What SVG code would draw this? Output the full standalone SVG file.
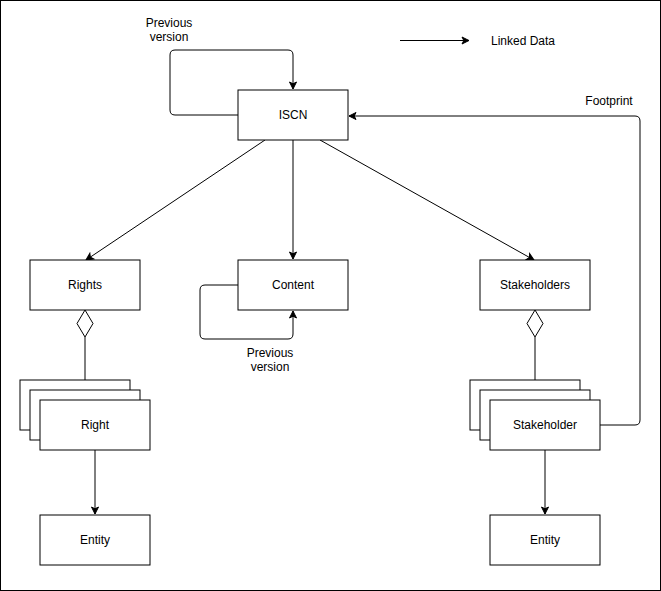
<svg xmlns="http://www.w3.org/2000/svg" width="661" height="591" viewBox="0 0 661 591">
<style>
.box{fill:#fff;stroke:#000;stroke-width:1}
.ln{fill:none;stroke:#000;stroke-width:1}
.t{font-family:"Liberation Sans",Arial,sans-serif;font-size:12px;fill:#000;text-anchor:middle;dominant-baseline:central}
</style>
<defs>
<marker id="arr" markerWidth="10" markerHeight="10" refX="8" refY="5" orient="auto" markerUnits="userSpaceOnUse">
<path d="M1,1.5 L8,5 L1,8.5 L2.8,5 Z" fill="#000" stroke="#000" stroke-width="1"/>
</marker>
</defs>
<rect x="0.5" y="0.5" width="660" height="590" fill="#fff" stroke="#000"/>
<g id="connectors">
<path class="ln" d="M238,115 H175 Q170,115 170,110 V55 Q170,50 175,50 H288 Q293,50 293,55 V89" marker-end="url(#arr)"/>
<path class="ln" d="M265,140 L86,260" marker-end="url(#arr)"/>
<path class="ln" d="M293,140 V259" marker-end="url(#arr)"/>
<path class="ln" d="M320,140 L534,260" marker-end="url(#arr)"/>
<path class="ln" d="M238,285 H205 Q200,285 200,290 V334 Q200,339 205,339 H288 Q293,339 293,334 V311" marker-end="url(#arr)"/>
<path class="ln" d="M600,425 H635 Q640,425 640,420 V121 Q640,116 635,116 H349" marker-end="url(#arr)"/>
<path class="ln" d="M85,337 V380"/>
<path class="ln" d="M535,337 V380"/>
<path class="ln" d="M95,450 V514" marker-end="url(#arr)"/>
<path class="ln" d="M545,450 V514" marker-end="url(#arr)"/>
<path class="ln" d="M400,40.5 H469" marker-end="url(#arr)"/>
<path class="box" d="M85,310 L93,323.5 L85,337 L77,323.5 Z"/>
<path class="box" d="M535,310 L543,323.5 L535,337 L527,323.5 Z"/>
</g>
<g id="legend"><text class="t" x="523" y="41">Linked Data</text></g>
<g id="label-prev1"><text class="t" x="169" y="23">Previous</text><text class="t" x="169" y="37">version</text></g>
<g id="label-prev2"><text class="t" x="270" y="353">Previous</text><text class="t" x="270" y="367">version</text></g>
<g id="label-footprint"><text class="t" x="609" y="101">Footprint</text></g>
<g id="iscn"><rect class="box" x="238" y="90" width="110" height="50"/><text class="t" x="293" y="115">ISCN</text></g>
<g id="rights"><rect class="box" x="30" y="260" width="110" height="50"/><text class="t" x="85" y="285">Rights</text></g>
<g id="content"><rect class="box" x="238" y="260" width="110" height="50"/><text class="t" x="293" y="285">Content</text></g>
<g id="stakeholders"><rect class="box" x="480" y="260" width="110" height="50"/><text class="t" x="535" y="285">Stakeholders</text></g>
<g id="right"><rect class="box" x="20" y="380" width="110" height="50"/><rect class="box" x="30" y="390" width="110" height="50"/><rect class="box" x="40" y="400" width="110" height="50"/><text class="t" x="95" y="425">Right</text></g>
<g id="stakeholder"><rect class="box" x="470" y="380" width="110" height="50"/><rect class="box" x="480" y="390" width="110" height="50"/><rect class="box" x="490" y="400" width="110" height="50"/><text class="t" x="545" y="425">Stakeholder</text></g>
<g id="entity1"><rect class="box" x="40" y="515" width="110" height="50"/><text class="t" x="95" y="540">Entity</text></g>
<g id="entity2"><rect class="box" x="490" y="515" width="110" height="50"/><text class="t" x="545" y="540">Entity</text></g>
</svg>
